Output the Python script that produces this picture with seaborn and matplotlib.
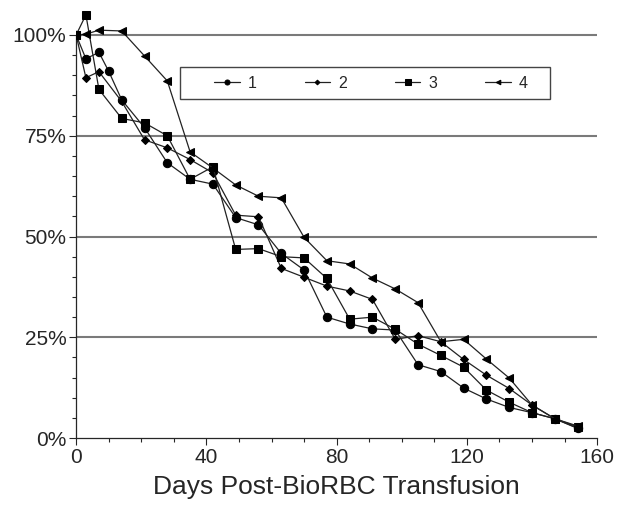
import matplotlib
matplotlib.use("Agg")
import matplotlib.pyplot as plt
import seaborn as sns
import pandas as pd
from matplotlib.ticker import MultipleLocator, FixedLocator
from matplotlib.patches import Rectangle

# days and % remaining
days_1 = [0, 3, 7, 10, 14, 21, 28, 35, 42, 49, 56, 63, 70, 77, 84, 91, 98, 105, 112, 119, 126, 133, 140, 147, 154]
pct_1 = [100, 94.1, 95.7, 91, 83.9, 77, 68.3, 64.2, 63, 54.7, 52.9, 45.8, 41.7, 30, 28.3, 27.1, 26.8,
         18.2, 16.5, 12.4, 9.7, 7.6, 6.3, 4.8, 2.5]

days_wk = [0, 3, 7, 14, 21, 28, 35, 42, 49, 56, 63, 70, 77, 84, 91, 98, 105, 112, 119, 126, 133, 140, 147, 154]
pct_2 = [100, 89.4, 90.9, 83.5, 74, 72, 69.1, 65.8, 55.3, 54.9, 42.1, 39.9, 37.7, 36.5, 34.4, 24.5,
         25.4, 23.9, 19.5, 15.6, 12.3, 8.2, 4.8, 2.4]
pct_3 = [100, 105, 86.5, 79.3, 78.2, 75, 64.2, 67.3, 46.8, 47, 45, 44.7, 39.6, 29.5, 30, 27,
         23.3, 20.5, 17.6, 11.9, 8.9, 6.3, 4.8, 2.8]
pct_4 = [100, 100.2, 101.2, 101, 94.8, 88.6, 71, 67, 62.8, 60, 59.6, 49.8, 44, 43.2, 39.7, 37,
         33.6, 23.9, 24.5, 19.6, 14.9, 8.2, 4.8, 3]

labels = ["1", "2", "3", "4"]
y_ticks = [0, 25, 50, 75, 100]
y_ticklabels = ["0%", "25%", "50%", "75%", "100%"]
x_ticks = [0, 40, 80, 120, 160]

sns.set_style("ticks")
plt.rcParams["font.family"] = ["Liberation Sans", "DejaVu Sans"]

fig = plt.figure(figsize=(6.24, 5.16), dpi=100)
ax = fig.add_axes([0.122, 0.151, 0.835, 0.839])

# horizontal reference lines
for y in [25, 50, 75, 100]:
    ax.plot([0, 160], [y, y], color="#7a7a7a", lw=1.5, zorder=1)

series = [
    (days_1, pct_1, "o", 6.0),
    (days_wk, pct_2, "D", 4.0),
    (days_wk, pct_3, "s", 6.2),
    (days_wk, pct_4, "<", 5.5),
]
for (d, p, m, ms), lab in zip(series, labels):
    df = pd.DataFrame({"day": d, "pct": p})
    sns.lineplot(data=df, x="day", y="pct", ax=ax, color="#222222", lw=0.9,
                 marker=m, markersize=ms, markeredgecolor="black",
                 markerfacecolor="black", label=lab, zorder=3)

ax.set_xlim(0, 160)
ax.set_ylim(0, 107.4)
ax.set_xticks(x_ticks)
ax.xaxis.set_minor_locator(MultipleLocator(10))
ax.set_yticks(y_ticks)
ax.set_yticklabels(y_ticklabels)
ax.yaxis.set_minor_locator(FixedLocator([v for v in range(5, 100, 5) if v % 25]))
ax.tick_params(axis="both", which="major", labelsize=15, length=5, width=0.8, pad=2)
ax.tick_params(axis="both", which="minor", length=3, width=0.8)

sns.despine(ax=ax)
ax.spines["left"].set_bounds(0, 100)
ax.spines["left"].set_linewidth(0.9)
ax.spines["bottom"].set_linewidth(0.9)

ax.set_xlabel("Days Post-BioRBC Transfusion", fontsize=19, labelpad=6)
ax.set_ylabel("")

# legend box is wider than the entries need, so draw it separately
ax.add_patch(Rectangle((0.1996, 0.783), 0.7102, 0.074, transform=ax.transAxes,
                       facecolor="white", edgecolor="#444444", lw=1.0, zorder=4))
leg = ax.legend(loc="center", bbox_to_anchor=(0.566, 0.82), ncol=4, fontsize=11.5,
                frameon=False, handlelength=1.6, handletextpad=0.5, columnspacing=3.0,
                markerscale=0.6, borderpad=0.3, borderaxespad=0)
leg.set_zorder(5)

fig.savefig("out.png", dpi=100)
